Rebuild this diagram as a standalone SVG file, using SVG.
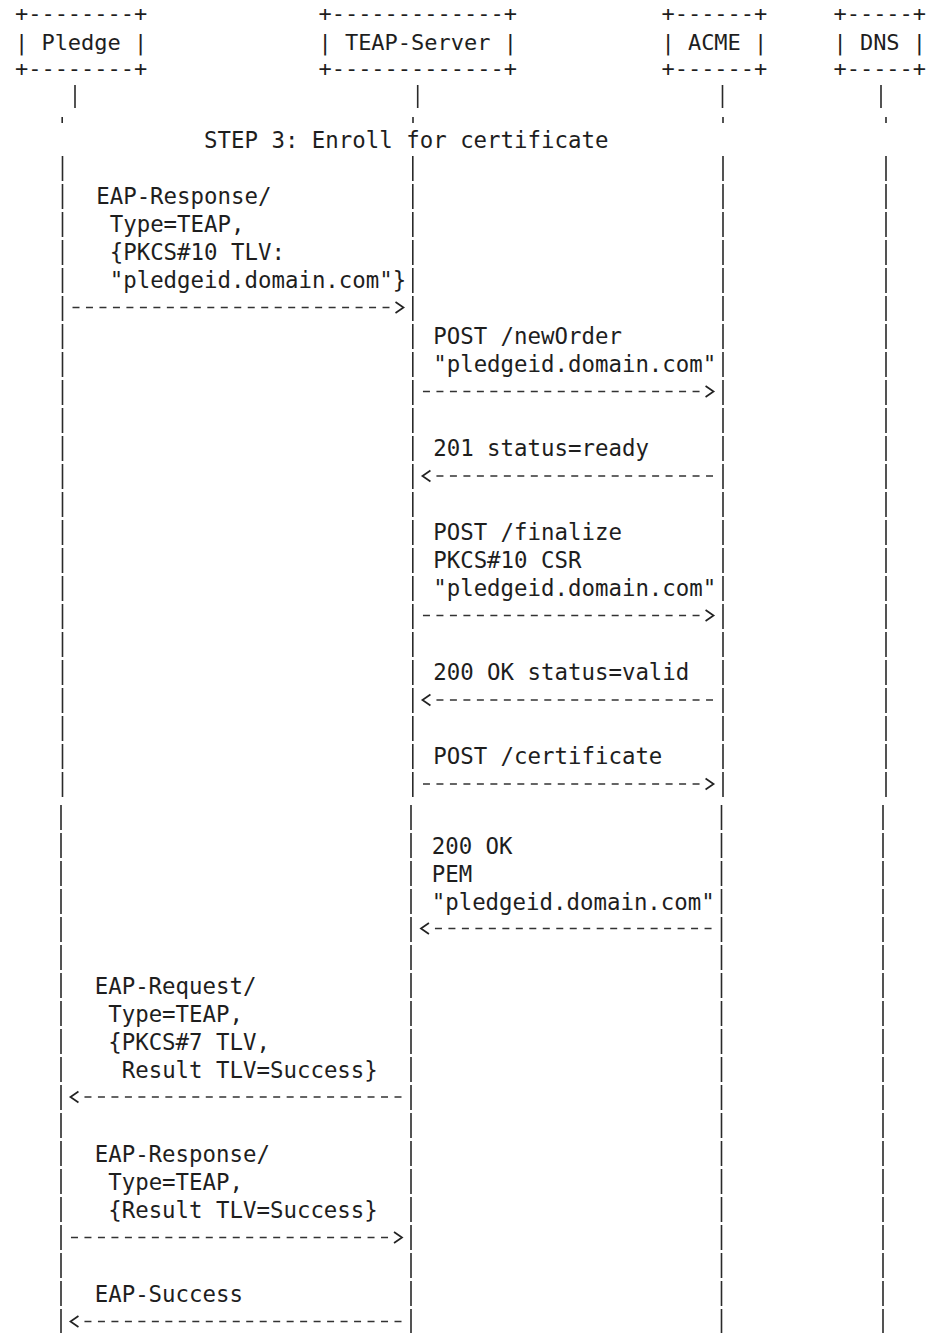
<svg xmlns="http://www.w3.org/2000/svg" width="936" height="1333" viewBox="0 0 936 1333">
<style>
  text { font-family: "DejaVu Sans Mono", "Liberation Mono", monospace; fill: #1e1e1e; white-space: pre; }
  .box { font-size: 22px; }
  .lbl { font-size: 22.4px; }
  .life { stroke: #2a2a2a; stroke-width: 1.6; fill: none; }
  .lifeA, .lifeB { stroke-dasharray: 25 3; }
  .msg { stroke: #333; stroke-width: 1.6; fill: none; stroke-dasharray: 7 6.48; marker-end: url(#chev); }
</style>
<defs>
  <marker id="chev" markerUnits="userSpaceOnUse" refX="-6" refY="0" markerWidth="10" markerHeight="14" orient="auto" overflow="visible">
    <path d="M0,-5.5 L8,0 L0,5.5" fill="none" stroke="#222" stroke-width="1.7" stroke-linejoin="miter"/>
  </marker>
</defs>
<rect width="936" height="1333" fill="#ffffff"/>

<g id="node-pledge">
  <text class="box" x="14.9" y="21.2">+--------+</text>
  <text class="box" x="14.9" y="50">| Pledge |</text>
  <text class="box" x="14.9" y="76.2">+--------+</text>
</g>
<g id="node-teap-server">
  <text class="box" x="318.4" y="21.2">+-------------+</text>
  <text class="box" x="318.4" y="50">| TEAP-Server |</text>
  <text class="box" x="318.4" y="76.2">+-------------+</text>
</g>
<g id="node-acme">
  <text class="box" x="661.4" y="21.2">+------+</text>
  <text class="box" x="661.4" y="50">| ACME |</text>
  <text class="box" x="661.4" y="76.2">+------+</text>
</g>
<g id="node-dns">
  <text class="box" x="833.4" y="21.2">+-----+</text>
  <text class="box" x="833.4" y="50">| DNS |</text>
  <text class="box" x="833.4" y="76.2">+-----+</text>
</g>

<g id="connectors">
  <!-- lifeline stubs below the boxes -->
  <path class="life" d="M75,85 V108 M417.7,85 V108 M722.5,85 V108 M881,85 V108"/>
  <path class="life" d="M62.2,117 V123 M413,117 V123 M723,117 V123 M886,117 V123"/>
  <!-- lifelines, upper part -->
  <path class="life lifeA" d="M62.5,156 V797 M412.8,156 V797 M723,156 V797 M886,156 V797"/>
  <!-- lifelines, lower part -->
  <path class="life lifeB" d="M61,805 V1334 M411,805 V1334 M721.5,805 V1334 M883,805 V1334"/>

  <!-- messages -->
  <path class="msg" d="M72.5,307.5 H389.5"/>
  <path class="msg" d="M422.96,391.5 H699.56"/>
  <path class="msg" d="M713.04,476 H436.44"/>
  <path class="msg" d="M422.96,615.5 H699.56"/>
  <path class="msg" d="M713.04,700 H436.44"/>
  <path class="msg" d="M422.96,784 H699.56"/>
  <path class="msg" d="M711.54,928.5 H434.94"/>
  <path class="msg" d="M401.5,1097 H84.46"/>
  <path class="msg" d="M70.98,1237.5 H388.02"/>
  <path class="msg" d="M401.5,1321.5 H84.46"/>
</g>

<g id="labels" class="lbl">
  <text class="lbl" x="204" y="148">STEP 3: Enroll for certificate</text>

  <text class="lbl" x="96.2" y="203.5">EAP-Response/</text>
  <text class="lbl" x="109.7" y="231.5">Type=TEAP,</text>
  <text class="lbl" x="109.7" y="259.5">{PKCS#10 TLV:</text>
  <text class="lbl" x="109.7" y="287.5">"pledgeid.domain.com"}</text>

  <text class="lbl" x="433.2" y="343.5">POST /newOrder</text>
  <text class="lbl" x="433.2" y="371.5">"pledgeid.domain.com"</text>

  <text class="lbl" x="433.2" y="455.5">201 status=ready</text>

  <text class="lbl" x="433.2" y="539.5">POST /finalize</text>
  <text class="lbl" x="433.2" y="567.5">PKCS#10 CSR</text>
  <text class="lbl" x="433.2" y="595.5">"pledgeid.domain.com"</text>

  <text class="lbl" x="433.2" y="679.5">200 OK status=valid</text>

  <text class="lbl" x="433.2" y="763.5">POST /certificate</text>

  <text class="lbl" x="431.7" y="853.5">200 OK</text>
  <text class="lbl" x="431.7" y="881.5">PEM</text>
  <text class="lbl" x="431.7" y="909.5">"pledgeid.domain.com"</text>

  <text class="lbl" x="94.7" y="993.5">EAP-Request/</text>
  <text class="lbl" x="108.2" y="1021.5">Type=TEAP,</text>
  <text class="lbl" x="108.2" y="1049.5">{PKCS#7 TLV,</text>
  <text class="lbl" x="121.7" y="1077.5">Result TLV=Success}</text>

  <text class="lbl" x="94.7" y="1161.5">EAP-Response/</text>
  <text class="lbl" x="108.2" y="1189.5">Type=TEAP,</text>
  <text class="lbl" x="108.2" y="1217.5">{Result TLV=Success}</text>

  <text class="lbl" x="94.7" y="1301.5">EAP-Success</text>
</g>
</svg>
